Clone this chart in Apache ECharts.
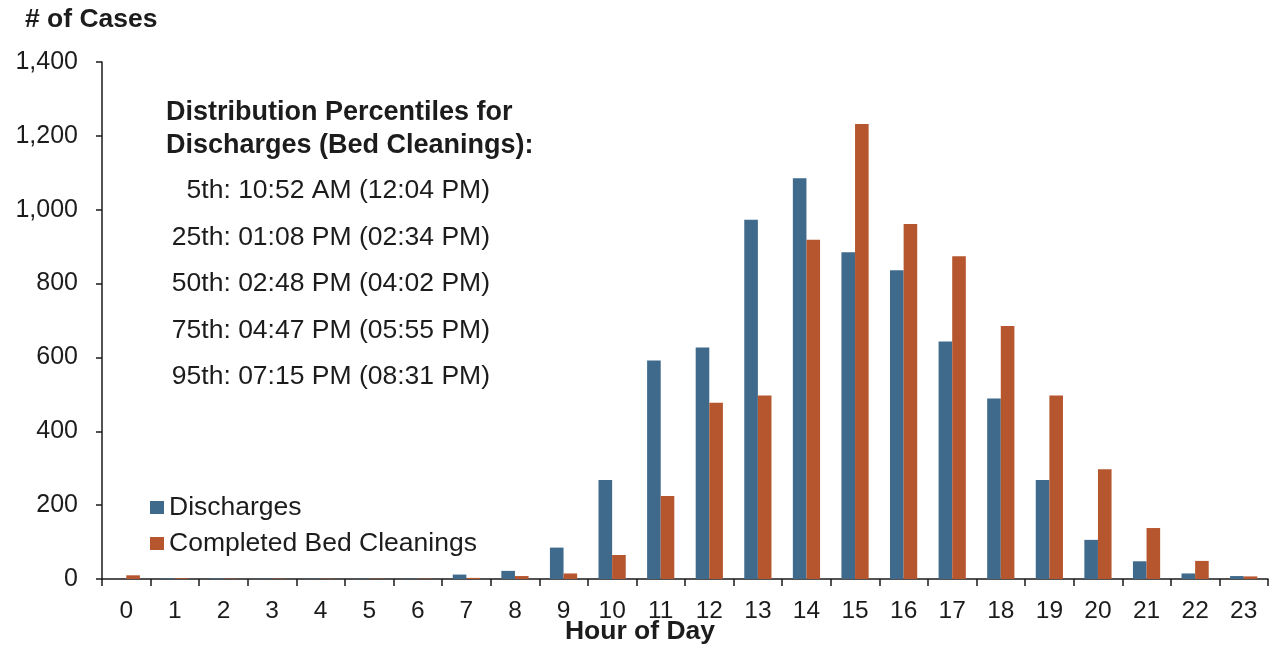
<!DOCTYPE html>
<html>
<head>
<meta charset="utf-8">
<title>Discharges and Completed Bed Cleanings by Hour of Day</title>
<script src="https://cdn.jsdelivr.net/npm/echarts@6/dist/echarts.min.js"></script>
<style>
  html, body { margin: 0; padding: 0; background: #ffffff; }
  #chart { width: 1274px; height: 656px; }
</style>
</head>
<body>
<div id="chart"></div>
<script>
// Hour-of-day categories
const hours = ['0','1','2','3','4','5','6','7','8','9','10','11',
               '12','13','14','15','16','17','18','19','20','21','22','23'];

// Number of cases per hour
const discharges = [0, 2, 2, 1, 1, 1, 1, 12, 22, 85, 268, 592,
                    627, 973, 1085, 885, 836, 643, 489, 268, 106, 48, 15, 8];
const bedCleanings = [10, 2, 1, 1, 1, 1, 1, 3, 8, 15, 65, 225,
                      477, 497, 919, 1232, 961, 874, 685, 497, 297, 138, 49, 7];

// Y axis range
const yMin = 0;
const yMax = 1400;
const yStep = 200;

// Percentile annotation
const percentileHeader = ['Distribution Percentiles for', 'Discharges (Bed Cleanings):'];
const percentileLines = [
  '5th: 10:52 AM (12:04 PM)',
  '25th: 01:08 PM (02:34 PM)',
  '50th: 02:48 PM (04:02 PM)',
  '75th: 04:47 PM (05:55 PM)',
  '95th: 07:15 PM (08:31 PM)'
];

const FONT = '"Liberation Sans", Arial, Helvetica, sans-serif';
const TEXT = '#1c1c1c';
const BLUE = '#3f6a8b';
const ORANGE = '#b6562f';

const chart = echarts.init(document.getElementById('chart'), null, { renderer: 'canvas' });

const graphics = [
  {
    type: 'text', x: 25, y: 20,
    style: { text: '# of Cases', font: 'bold 26.5px ' + FONT, fill: TEXT, align: 'left', verticalAlign: 'middle' }
  },
  {
    type: 'text', x: 640, y: 632,
    style: { text: 'Hour of Day', font: 'bold 26.5px ' + FONT, fill: TEXT, align: 'center', verticalAlign: 'middle' }
  }
];
percentileHeader.forEach(function (line, i) {
  graphics.push({
    type: 'text', x: 166, y: 113 + i * 33,
    style: { text: line, font: 'bold 27px ' + FONT, fill: TEXT, align: 'left', verticalAlign: 'middle' }
  });
});
percentileLines.forEach(function (line, i) {
  graphics.push({
    type: 'text', x: 490, y: 191 + i * 46.5,
    style: { text: line, font: '26.5px ' + FONT, fill: TEXT, align: 'right', verticalAlign: 'middle' }
  });
});

chart.setOption({
  animation: false,
  backgroundColor: '#ffffff',
  grid: { left: 102, right: 6, top: 62, bottom: 77, containLabel: false },
  legend: {
    orient: 'vertical',
    left: 145, top: 489,
    itemWidth: 14, itemHeight: 13, itemGap: 9,
    icon: 'rect',
    textStyle: { fontFamily: FONT, fontSize: 26.5, color: TEXT },
    data: ['Discharges', 'Completed Bed Cleanings']
  },
  xAxis: {
    type: 'category',
    data: hours,
    boundaryGap: true,
    axisLine: { lineStyle: { color: '#1a1a1a', width: 1.5 } },
    axisTick: { show: true, inside: false, length: 7, alignWithLabel: false, lineStyle: { color: '#1a1a1a', width: 1.5 } },
    axisLabel: { fontFamily: FONT, fontSize: 24.5, color: TEXT, margin: 20, interval: 0 },
    splitLine: { show: false }
  },
  yAxis: {
    type: 'value',
    min: yMin, max: yMax, interval: yStep,
    axisLine: { show: true, lineStyle: { color: '#1a1a1a', width: 1.5 } },
    axisTick: { show: true, inside: false, length: 6, lineStyle: { color: '#1a1a1a', width: 1.5 } },
    axisLabel: {
      fontFamily: FONT, fontSize: 25, color: TEXT, margin: 24,
      formatter: function (v) { return v.toLocaleString('en-US'); }
    },
    splitLine: { show: false }
  },
  series: [
    {
      name: 'Discharges', type: 'bar', data: discharges,
      itemStyle: { color: BLUE },
      barGap: '0%', barCategoryGap: '44%'
    },
    {
      name: 'Completed Bed Cleanings', type: 'bar', data: bedCleanings,
      itemStyle: { color: ORANGE },
      barGap: '0%', barCategoryGap: '44%'
    }
  ],
  graphic: graphics
});
</script>
</body>
</html>
